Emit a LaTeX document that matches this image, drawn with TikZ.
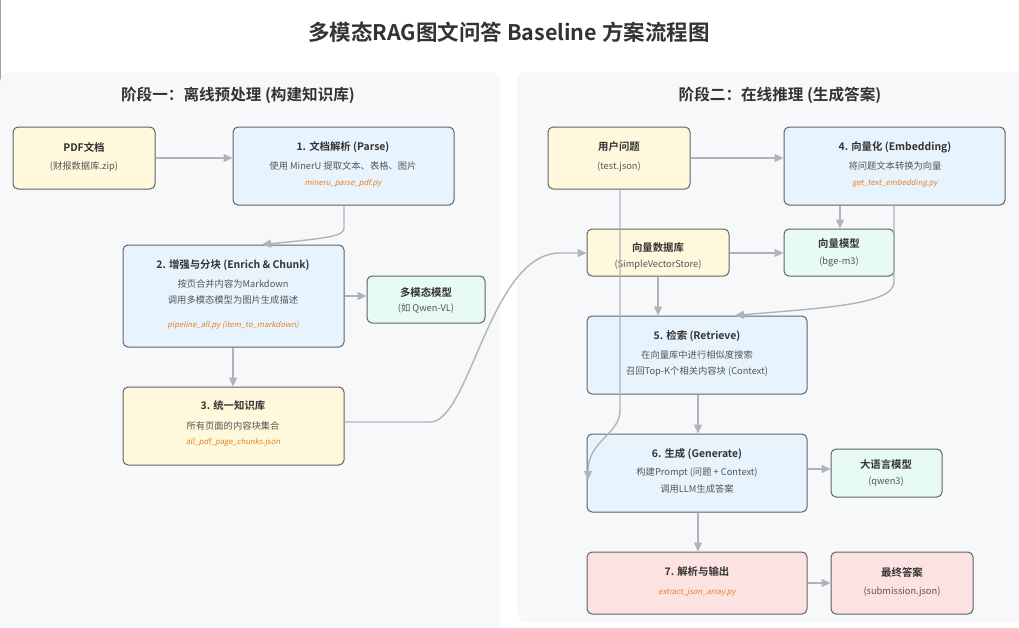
\documentclass[tikz,border=0pt]{standalone}
\usepackage{fontspec}
\setmainfont{Noto Sans CJK SC}[BoldFont={Noto Sans CJK SC Bold}]
\newfontfamily\codefont{Noto Sans CJK SC}[FakeSlant=0.2]
\usetikzlibrary{arrows.meta}
\definecolor{bgc}{HTML}{F7F8FA}
\definecolor{yel}{HTML}{FFF8DC}
\definecolor{blu}{HTML}{E8F4FD}
\definecolor{grn}{HTML}{E8FBF3}
\definecolor{pnk}{HTML}{FDE2E2}
\definecolor{edgec}{HTML}{B0B4B8}
\definecolor{bord}{HTML}{5F6368}
\definecolor{txt}{HTML}{333333}
\definecolor{sub}{HTML}{555555}
\definecolor{code}{HTML}{E67E22}
\tikzset{
  box/.style={draw=bord, line width=1pt, rounded corners=5pt, inner sep=0pt},
  panel/.style={fill=bgc, rounded corners=10pt, draw=none},
  ttl/.style={font=\bfseries\fontsize{10.4}{12}\selectfont, text=txt},
  sb/.style={font=\fontsize{9.3}{11}\selectfont, text=sub},
  cd/.style={font=\codefont\fontsize{7.7}{10}\selectfont, text=code},
  conn/.style={draw=edgec, line width=1.4pt, -{Triangle[length=9pt,width=8pt]}},
}
\newcommand{\bx}[6]{\node[box, fill=#6, minimum width={(#4)-(#2)}, minimum height={(#5)-(#3)}] (#1) at ({((#2)+(#4))/2},{((#3)+(#5))/2}) {};}
\begin{document}
\begin{tikzpicture}[x=1pt,y=-1pt]
\useasboundingbox (0,0) rectangle (1019,627);
\fill[white] (0,0) rectangle (1019,627);
\draw[bord!60, line width=0.8pt] (0.5,0) -- (0.5,627);
\node[font=\bfseries\fontsize{21.5}{25}\selectfont, text=txt] (title) at (509,32) {多模态RAG图文问答 Baseline 方案流程图};
\fill[panel] (0,72) rectangle (500,640);
\fill[panel] (517,72) rectangle (1030,622);
\node[font=\bfseries\fontsize{15.6}{18}\selectfont, text=txt] (h1) at (238,95) {阶段一：离线预处理 (构建知识库)};
\node[font=\bfseries\fontsize{15.6}{18}\selectfont, text=txt] (h2) at (780,95) {阶段二：在线推理 (生成答案)};
% boxes
\bx{pdf}{13}{127}{155}{189}{yel}
\bx{n1}{233}{127}{454}{205}{blu}
\bx{n2}{123}{245}{344}{347}{blu}
\bx{mm}{367}{276}{485}{323}{grn}
\bx{n3}{123}{387}{344}{465}{yel}
\bx{user}{548}{127}{690}{189}{yel}
\bx{n4}{784}{127}{1005}{205}{blu}
\bx{vdb}{587}{229}{729}{276}{yel}
\bx{vm}{784}{229}{894}{276}{grn}
\bx{n5}{587}{316}{807}{394}{blu}
\bx{n6}{587}{434}{807}{512}{blu}
\bx{llm}{831}{449}{942}{497}{grn}
\bx{n7}{587}{552}{807}{614}{pnk}
\bx{fin}{831}{552}{973}{614}{pnk}
% texts
\node[ttl] (t1) at (84,147) {PDF文档};
\node[sb] (t2) at (84,167) {(财报数据库.zip)};
\node[ttl] (t3) at (343,147) {1. 文档解析 (Parse)};
\node[sb] (t4) at (343,166) {使用 MinerU 提取文本、表格、图片};
\node[cd] (t5) at (343,183) {mineru\_parse\_pdf.py};
\node[ttl] (t6) at (233,265) {2. 增强与分块 (Enrich \& Chunk)};
\node[sb] (t7) at (233,284) {按页合并内容为Markdown};
\node[sb] (t8) at (233,300) {调用多模态模型为图片生成描述};
\node[cd] (t9) at (233,325) {pipeline\_all.py (item\_to\_markdown)};
\node[ttl] (t10) at (426,292) {多模态模型};
\node[sb] (t11) at (426,309) {(如 Qwen-VL)};
\node[ttl] (t12) at (233,406) {3. 统一知识库};
\node[sb] (t13) at (233,426) {所有页面的内容块集合};
\node[cd] (t14) at (233,442) {all\_pdf\_page\_chunks.json};
\node[ttl] (t15) at (619,147) {用户问题};
\node[sb] (t16) at (619,167) {(test.json)};
\node[ttl] (t17) at (895,147) {4. 向量化 (Embedding)};
\node[sb] (t18) at (895,166) {将问题文本转换为向量};
\node[cd] (t19) at (895,183) {get\_text\_embedding.py};
\node[ttl] (t20) at (658,248) {向量数据库};
\node[sb] (t21) at (658,265) {(SimpleVectorStore)};
\node[ttl] (t22) at (839,244) {向量模型};
\node[sb] (t23) at (839,262) {(bge-m3)};
\node[ttl] (t24) at (697,336) {5. 检索 (Retrieve)};
\node[sb] (t25) at (697,355) {在向量库中进行相似度搜索};
\node[sb] (t26) at (697,372) {召回Top-K个相关内容块 (Context)};
\node[ttl] (t27) at (697,454) {6. 生成 (Generate)};
\node[sb] (t28) at (697,473) {构建Prompt (问题 + Context)};
\node[sb] (t29) at (697,489) {调用LLM生成答案};
\node[ttl] (t30) at (886,465) {大语言模型};
\node[sb] (t31) at (886,482) {(qwen3)};
\node[ttl] (t32) at (697,572) {7. 解析与输出};
\node[cd] (t33) at (697,592) {extract\_json\_array.py};
\node[ttl] (t34) at (902,572) {最终答案};
\node[sb] (t35) at (902,592) {(submission.json)};
% connectors
\draw[conn] (pdf.east |- 0,158) -- (n1.west |- 0,158);
\draw[conn] (n1.south -| 344,0) -- (344,228) .. controls (344,236) and (330,238) .. (n2.north -| 262,0);
\draw[conn] (n2.east |- 0,296) -- (mm.west |- 0,296);
\draw[conn] (n2.south -| 233,0) -- (n3.north -| 233,0);
\draw[conn] (n3.east |- 0,422) -- (430,422) .. controls (470,422) and (490,253) .. (560,253) -- (vdb.west |- 0,253);
\draw[conn] (user.east |- 0,158) -- (n4.west |- 0,158);
\draw[conn] (user.south -| 620,0) -- (620,410) .. controls (620,435) and (588,440) .. (588,480);
\draw[conn] (n4.south -| 840,0) -- (vm.north -| 840,0);
\draw[conn] (n4.south -| 894,0) -- (894,282) .. controls (894,305) and (820,308) .. (n5.north -| 735,0);
\draw[conn] (vdb.east |- 0,253) -- (vm.west |- 0,253);
\draw[conn] (vdb.south -| 658,0) -- (n5.north -| 658,0);
\draw[conn] (n5.south -| 698,0) -- (n6.north -| 698,0);
\draw[conn] (n6.east |- 0,469) -- (llm.west |- 0,469);
\draw[conn] (n6.south -| 698,0) -- (n7.north -| 698,0);
\draw[conn] (n7.east |- 0,583) -- (fin.west |- 0,583);
\end{tikzpicture}
\end{document}
